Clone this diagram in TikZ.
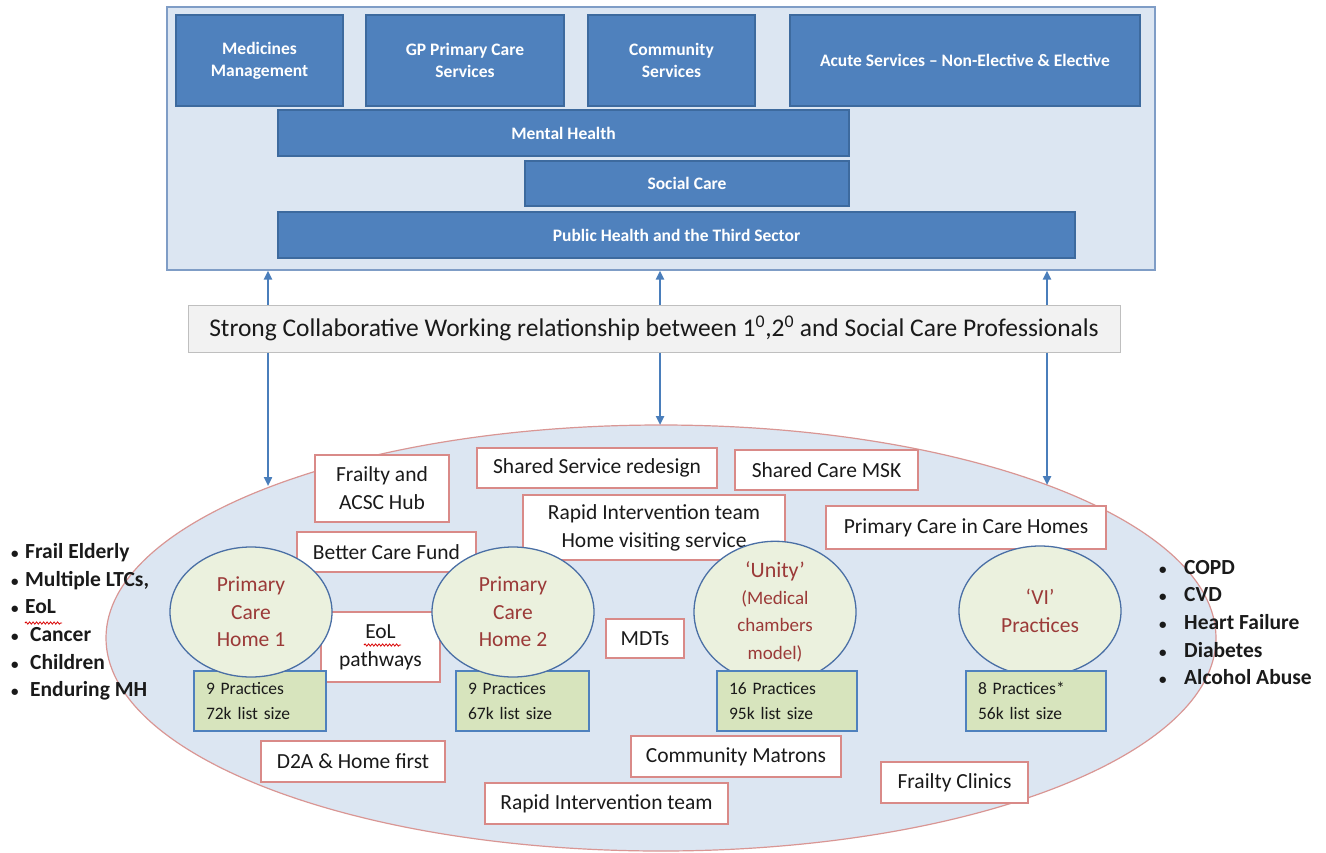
\documentclass[tikz,border=0pt]{standalone}
\usepackage{fontspec}
\setmainfont{Carlito}
\usetikzlibrary{arrows.meta,shapes.geometric,decorations.pathmorphing}

\definecolor{panelfill}{HTML}{DCE6F2}
\definecolor{panelborder}{HTML}{7F9DC6}
\definecolor{svcfill}{HTML}{4F81BD}
\definecolor{svcborder}{HTML}{3D6A9E}
\definecolor{barfill}{HTML}{F2F2F2}
\definecolor{barborder}{HTML}{BFBFBF}
\definecolor{linkcol}{HTML}{4A7EBB}
\definecolor{poolfill}{HTML}{DCE6F2}
\definecolor{poolborder}{HTML}{D99694}
\definecolor{topicborder}{HTML}{D98A88}
\definecolor{hubfill}{HTML}{EBF1DE}
\definecolor{hubborder}{HTML}{4A6FA5}
\definecolor{hubtext}{HTML}{9B3A38}
\definecolor{statsfill}{HTML}{D7E4BD}
\definecolor{statsborder}{HTML}{4F81BD}
\definecolor{textcol}{HTML}{1A1A1A}

\newcommand\fsz[2]{\fontsize{#1}{#2}\selectfont}
% list bullet: a small dot followed by a fixed gap
\newcommand\itemdot[1]{\makebox[#1][l]{\fsz{15}{15}•}}

\begin{document}
\begin{tikzpicture}[x=1pt,y=-1pt,
  panel/.style={draw=panelborder, fill=panelfill, line width=1.3pt, inner sep=0pt},
  svc/.style={draw=svcborder, fill=svcfill, line width=1.2pt, text=white,
    font=\fsz{17.5}{22}\bfseries, align=center, inner sep=0pt},
  banner/.style={draw=barborder, fill=barfill, line width=1pt, text=textcol,
    font=\fsz{25.5}{28}, inner sep=0pt},
  pool/.style={ellipse, draw=poolborder, fill=poolfill, line width=1.2pt, inner sep=0pt},
  topic/.style={draw=topicborder, fill=white, line width=1.3pt, text=textcol,
    font=\fsz{21.5}{28}, align=center, inner sep=0pt},
  hub/.style={ellipse, draw=hubborder, fill=hubfill, line width=1.3pt,
    minimum width=162pt, minimum height=130pt, inner sep=0pt, text=hubtext,
    font=\fsz{21.5}{27.5}, align=center},
  stats/.style={draw=statsborder, fill=statsfill, line width=1.5pt, text=textcol,
    font=\fsz{17.5}{25}, align=left, inner xsep=12pt, inner ysep=0pt, minimum height=60pt},
  link/.style={draw=linkcol, line width=2.4pt, -{Triangle[length=9pt,width=8pt]}},
  squiggle/.style={draw=red!85!black, line width=0.8pt, decorate,
    decoration={snake, amplitude=1.1pt, segment length=3.5pt}},
  conditions/.style={text=textcol, font=\fsz{21.5}{27.6}\bfseries, align=left, inner sep=0pt}
]
\useasboundingbox (0,0) rectangle (1326,852);

% ---- service panel ----
\node[panel, minimum width=988pt, minimum height=263pt] (panel) at (661,138.5) {};
\node[svc, minimum width=167pt, minimum height=91pt] (med) at (259.5,60.5) {Medicines\\Management};
\node[svc, minimum width=198pt, minimum height=91pt] (gp) at (465,60.5) {GP Primary Care\\Services};
\node[svc, minimum width=167pt, minimum height=91pt] (comm) at (671.5,60.5) {Community\\Services};
\node[svc, minimum width=350pt, minimum height=91pt] (acute) at (965,60.5) {Acute Services -- Non-Elective \& Elective};
\node[svc, minimum width=571pt, minimum height=46pt] (mh) at (563.5,133) {Mental Health};
\node[svc, minimum width=324pt, minimum height=45pt] (sc) at (687,183.5) {Social Care};
\node[svc, minimum width=797pt, minimum height=46pt] (ph) at (676.5,235) {Public Health and the Third Sector};

% ---- collaboration banner ----
\node[banner, minimum width=932pt, minimum height=47pt] (bar) at (654,328.5)
  {Strong Collaborative Working relationship between 1\textsuperscript{0},2\textsuperscript{0} and Social Care Professionals};

% ---- locality pool ----
\node[pool, minimum width=1110pt, minimum height=426pt] (pool) at (661,638) {};

% ---- links between banner, panel and pool ----
\coordinate (c1) at (268,0);
\coordinate (c2) at (660,0);
\coordinate (c3) at (1047,0);
\coordinate (e1) at (268,486);
\coordinate (e2) at (660,425);
\coordinate (e3) at (1047,485);
\draw[link] (bar.north -| c1) -- (panel.south -| c1);
\draw[link] (bar.north -| c2) -- (panel.south -| c2);
\draw[link] (bar.north -| c3) -- (panel.south -| c3);
\draw[link] (bar.south -| c1) -- (e1);
\draw[link] (bar.south -| c2) -- (e2);
\draw[link] (bar.south -| c3) -- (e3);

% ---- services and initiatives ----
\node[topic, minimum width=134pt, minimum height=67pt] (frailty) at (382,488.5) {Frailty and\\ACSC Hub};
\node[topic, minimum width=240pt, minimum height=40pt] (shared) at (597,468) {Shared Service redesign};
\node[topic, minimum width=183pt, minimum height=40pt] (msk) at (826.5,470) {Shared Care MSK};
\node[topic, minimum width=262pt, minimum height=65pt] (rapidhv) at (654,527.5) {Rapid Intervention team\\Home visiting service};
\node[topic, minimum width=280pt, minimum height=43pt] (carehomes) at (966,527.5) {Primary Care in Care Homes};
\node[topic, minimum width=179pt, minimum height=40pt] (bcf) at (386.5,552) {Better Care Fund};
\node[topic, minimum width=119pt, minimum height=70pt] (eol) at (380.5,647) {EoL\\pathways};
\node[topic, minimum width=78pt, minimum height=39pt] (mdt) at (645,638.5) {MDTs};
\node[topic, minimum width=184pt, minimum height=41pt] (d2a) at (353,761.5) {D2A \& Home first};
\node[topic, minimum width=210pt, minimum height=41pt] (matrons) at (736,756.5) {Community Matrons};
\node[topic, minimum width=147pt, minimum height=41pt] (clinics) at (954.5,782.5) {Frailty Clinics};
\node[topic, minimum width=243pt, minimum height=41pt] (rapid) at (606.5,803.5) {Rapid Intervention team};
\draw[squiggle] (364,645) -- (401,645);

% ---- practice groups ----
\node[stats, text width=108pt] (s1) at (260,701) {9 Practices\\72k list size};
\node[stats, text width=109pt] (s2) at (522.5,701) {9 Practices\\67k list size};
\node[hub] (pch1) at (251,612) {Primary\\Care\\Home 1};
\node[hub] (pch2) at (513,612) {Primary\\Care\\Home 2};
\node[hub] (unity) at (775,612) {{\fsz{22}{24}‘Unity’}\\[-1pt]{\fsz{19}{24}(Medical}\\{\fsz{19}{24}chambers}\\{\fsz{19}{24}model)}};
\node[hub] (vi) at (1040,611) {‘VI’\\Practices};
\node[stats, text width=116pt] (s3) at (787,701) {16 Practices\\95k list size};
\node[stats, text width=116pt] (s4) at (1036,701) {8 Practices*\\56k list size};

% ---- patient groups ----
\node[conditions, anchor=west] (left) at (11,622) {%
  \itemdot{14pt}Frail Elderly\\
  \itemdot{14pt}Multiple LTCs,\\
  \itemdot{14pt}EoL\\
  \itemdot{19pt}Cancer\\
  \itemdot{19pt}Children\\
  \itemdot{19pt}Enduring MH};
\draw[squiggle] (25,623) -- (62,623);
\node[conditions, anchor=west] (right) at (1159,622.5) {%
  \itemdot{25pt}COPD\\
  \itemdot{25pt}CVD\\
  \itemdot{25pt}Heart Failure\\
  \itemdot{25pt}Diabetes\\
  \itemdot{25pt}Alcohol Abuse};
\end{tikzpicture}
\end{document}
